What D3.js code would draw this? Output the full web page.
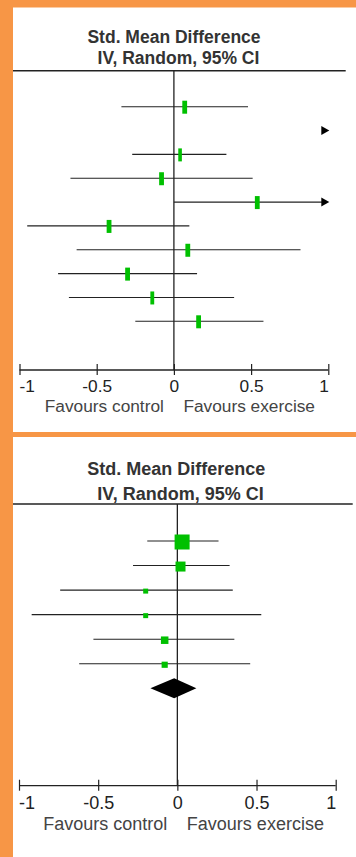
<!DOCTYPE html>
<html>
<head>
<meta charset="utf-8">
<script src="https://cdn.jsdelivr.net/npm/d3@7"></script>
<style>
  html, body { margin: 0; padding: 0; background: #F79646; }
  svg { display: block; }
</style>
</head>
<body>
<svg id="chart" width="356" height="857"></svg>
<script>
// ---------- DATA ----------
const titleLines = ["Std. Mean Difference", " IV, Random, 95% CI"];
const tickValues = [-1, -0.5, 0, 0.5, 1];
const tickLabels = ["-1", "-0.5", "0", "0.5", "1"];
const favourLeft = "Favours control";
const favourRight = "Favours exercise";

// Panel 1: individual studies (SMD with 95% CI)
const p1Est   = [0.07, 1.35, 0.04, -0.08, 0.54, -0.42, 0.09, -0.30, -0.14, 0.16];
const p1Lower = [-0.34, 1.08, -0.27, -0.67, 0.00, -0.95, -0.63, -0.75, -0.68, -0.25];
const p1Upper = [0.48, 1.62, 0.34, 0.51, 1.15, 0.10, 0.82, 0.15, 0.39, 0.58];
const p1Weight = [10.5, 10, 8, 10.5, 10.5, 10.5, 10.5, 10.5, 8.5, 10.5];

// Panel 2: studies + pooled estimate
const p2Est    = [0.03, 0.02, -0.20, -0.20, -0.08, -0.08];
const p2Lower  = [-0.19, -0.28, -0.74, -0.92, -0.53, -0.62];
const p2Upper  = [0.26, 0.33, 0.35, 0.53, 0.36, 0.46];
const p2Weight = [48, 21.3, 5.3, 5.3, 12, 8.1];
const pooled   = { est: -0.02, lower: -0.17, upper: 0.12 };

// ---------- DRAW ----------
const svg = d3.select("#chart");
const FONT = "'Liberation Sans', Arial, Helvetica, sans-serif";
const GREEN = "#00c000";
const INK = "#222";

svg.append("rect").attr("x", 0).attr("y", 0).attr("width", 356).attr("height", 857).attr("fill", "#F79646");

function drawPanel(cfg) {
  const g = svg.append("g");
  g.append("rect").attr("x", 13).attr("y", cfg.top).attr("width", 343).attr("height", cfg.bottom - cfg.top).attr("fill", "#fff");

  const x = d3.scaleLinear().domain([-1, 1]).range(cfg.xRange);
  const n = cfg.est.length + (cfg.pooled ? 1 : 0);
  const y = d3.scalePoint().domain(d3.range(n)).range(cfg.yRange);

  // titles
  titleLines.forEach((t, i) => {
    g.append("text")
      .attr("x", cfg.titleX[i]).attr("y", cfg.titleY[i])
      .attr("text-anchor", "middle")
      .attr("font-family", FONT).attr("font-weight", "bold")
      .attr("font-size", cfg.titleSize).attr("fill", "#333")
      .attr("xml:space", "preserve")
      .text(t);
  });

  // top rule
  g.append("line").attr("x1", 13).attr("x2", cfg.ruleEnd)
    .attr("y1", cfg.ruleY).attr("y2", cfg.ruleY)
    .attr("stroke", INK).attr("stroke-width", 1.4);

  // zero line
  g.append("line").attr("x1", x(0)).attr("x2", x(0))
    .attr("y1", cfg.ruleY).attr("y2", cfg.axisY)
    .attr("stroke", INK).attr("stroke-width", 1.3);

  const xmin = x.range()[0], xmax = x.range()[1];
  const arrow = (gg, xt, yc) => gg.append("path")
    .attr("d", `M${xt - 7},${yc - 4.5}L${xt + 1},${yc}L${xt - 7},${yc + 4.5}Z`)
    .attr("fill", "#000");
  const arrowL = (gg, xt, yc) => gg.append("path")
    .attr("d", `M${xt + 7},${yc - 4.5}L${xt - 1},${yc}L${xt + 7},${yc + 4.5}Z`)
    .attr("fill", "#000");

  cfg.est.forEach((e, i) => {
    const lo = cfg.lower[i], hi = cfg.upper[i];
    const yc = y(i);
    const row = g.append("g");
    if (lo > 1) { arrow(row, xmax, yc); return; }
    if (hi < -1) { arrowL(row, xmin, yc); return; }
    const xl = Math.max(x(lo), xmin), xh = Math.min(x(hi), xmax);
    const lineEnd = hi > 1 ? xh - 6 : xh;
    const lineStart = lo < -1 ? xl + 6 : xl;
    row.append("line").attr("x1", lineStart).attr("x2", lineEnd)
      .attr("y1", yc).attr("y2", yc).attr("stroke", INK).attr("stroke-width", 1.1);
    if (hi > 1) arrow(row, xmax, yc);
    if (lo < -1) arrowL(row, xmin, yc);
    const w = cfg.markW(cfg.weight[i]), h = cfg.markH(cfg.weight[i]);
    row.append("rect")
      .attr("x", x(e) - w / 2).attr("y", yc - h / 2 + cfg.markDy)
      .attr("width", w).attr("height", h).attr("fill", GREEN);
  });

  if (cfg.pooled) {
    const yc = y(n - 1), p = cfg.pooled;
    g.append("path")
      .attr("d", `M${x(p.lower)},${yc}L${x(p.est)},${yc - 10}L${x(p.upper)},${yc}L${x(p.est)},${yc + 10}Z`)
      .attr("fill", "#000");
  }

  // axis
  const axis = d3.axisBottom(x).tickValues(tickValues)
    .tickFormat((d, i) => tickLabels[i]).tickSizeOuter(0);
  const ag = g.append("g").attr("transform", `translate(0,${cfg.axisY})`).call(axis);
  ag.select(".domain").attr("stroke", INK).attr("stroke-width", 1.3)
    .attr("d", `M${xmin},0H${xmax}`);
  ag.selectAll(".tick line").attr("y1", -6).attr("y2", 5).attr("stroke", INK).attr("stroke-width", 1.2);
  const last = tickValues.length - 1;
  ag.selectAll(".tick text").attr("y", cfg.tickTextDy).attr("dy", 0)
    .attr("font-family", FONT).attr("font-size", cfg.fontSize).attr("fill", INK)
    .attr("text-anchor", (d, i) => i === 0 ? "start" : (i === last ? "end" : "middle"))
    .attr("x", (d, i) => i === 0 ? -0.5 : 0);

  g.append("text").attr("x", x(0) - 10).attr("y", cfg.axisY + cfg.favDy)
    .attr("text-anchor", "end").attr("font-family", FONT)
    .attr("font-size", cfg.fontSize).attr("fill", "#444").text(favourLeft);
  g.append("text").attr("x", x(0) + 9.5).attr("y", cfg.axisY + cfg.favDy)
    .attr("text-anchor", "start").attr("font-family", FONT)
    .attr("font-size", cfg.fontSize).attr("fill", "#444").text(favourRight);
}

// Panel 1
const w1 = d3.scaleLinear().domain([8, 10.5]).range([3.6, 4.8]);
drawPanel({
  top: 7.5, bottom: 432,
  xRange: [19.5, 328.3], yRange: [106.7, 321.3],
  titleX: [174, 176], titleY: [42.5, 63.5], titleSize: 17.5,
  ruleY: 70.7, ruleEnd: 345.7, axisY: 370,
  tickTextDy: 21.7, favDy: 42, fontSize: 17.3,
  est: p1Est, lower: p1Lower, upper: p1Upper, weight: p1Weight,
  markW: w => w1(w), markH: () => 13, markDy: 0.5
});

// Panel 2
const s2 = d3.scaleSqrt().domain([0, 48]).range([0, 15]);
drawPanel({
  top: 437, bottom: 857,
  xRange: [19, 335.7], yRange: [541, 688.3],
  titleX: [176.3, 178], titleY: [475, 500], titleSize: 18,
  ruleY: 504, ruleEnd: 352.7, axisY: 785.7,
  tickTextDy: 23.3, favDy: 44.3, fontSize: 18,
  est: p2Est, lower: p2Lower, upper: p2Upper, weight: p2Weight,
  markW: w => s2(w), markH: w => s2(w), markDy: 1,
  pooled: pooled
});
</script>
</body>
</html>
